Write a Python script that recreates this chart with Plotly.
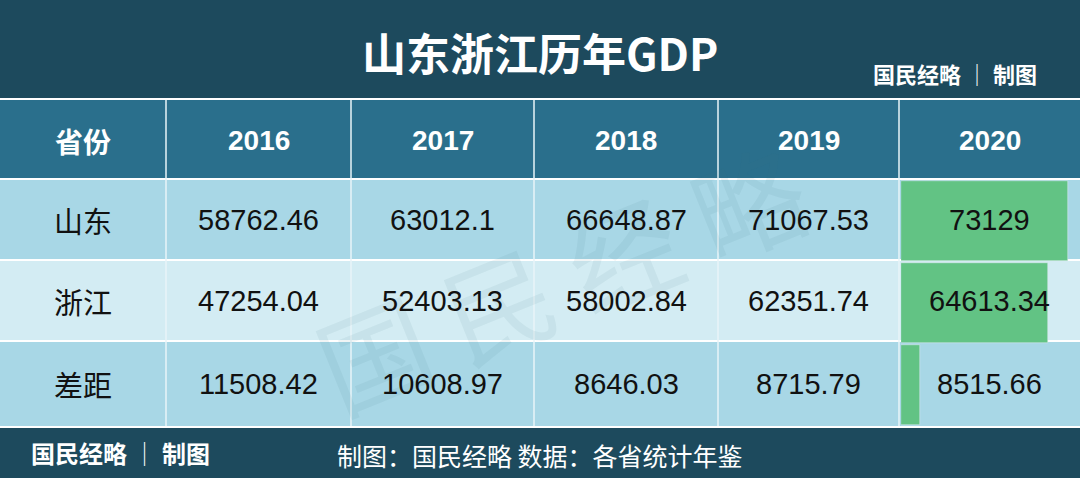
import plotly.graph_objects as go

title = "山东浙江历年GDP"
header = ["省份", "2016", "2017", "2018", "2019", "2020"]
provinces = ["山东", "浙江", "差距"]
v2016 = ["58762.46", "47254.04", "11508.42"]
v2017 = ["63012.1", "52403.13", "10608.97"]
v2018 = ["66648.87", "58002.84", "8646.03"]
v2019 = ["71067.53", "62351.74", "8715.79"]
v2020 = [73129, 64613.34, 8515.66]
v2020_labels = ["73129", "64613.34", "8515.66"]

W, H = 1080, 478
def px(x): return x / W
def py(y): return 1 - y / H

col_edges = [0, 166, 351, 534, 718, 899, 1080]
row_edges = [(180, 259), (261, 340), (342, 426)]
row_colors = ["#a8d7e6", "#d3ecf3", "#a8d7e6"]

fig = go.Figure()
shapes = []
def rect(x0, y0, x1, y1, color):
    shapes.append(dict(type="rect", xref="paper", yref="paper", x0=px(x0), x1=px(x1),
                       y0=py(y1), y1=py(y0), fillcolor=color, line_width=0, layer="below"))
rect(0, 0, 1080, 478, "#ffffff")
rect(0, 0, 1080, 98, "#1d4a5d")
rect(0, 100, 1080, 178, "#2a6f8c")
for (a, b), c in zip(row_edges, row_colors):
    rect(0, a, 1080, b, c)
rect(0, 428, 1080, 478, "#1d4a5d")
for x in col_edges[1:-1]:
    shapes.append(dict(type="line", xref="paper", yref="paper", x0=px(x), x1=px(x),
                       y0=py(426), y1=py(100), line=dict(color="#e8f4f8", width=1.5), layer="below"))

fig.add_trace(go.Bar(x=v2020, y=provinces, orientation="h", marker_color="#62c384",
                     width=0.97, hoverinfo="skip"))

anns = []
def txt(x, y, s, size, color, family="Noto Sans CJK SC", **kw):
    anns.append(dict(x=px(x), y=py(y), xref="paper", yref="paper", text=s, showarrow=False,
                     xanchor="center", yanchor="middle",
                     font=dict(size=size, color=color, family=family), **kw))
centers = [(col_edges[i] + col_edges[i + 1]) / 2 for i in range(6)]
txt(540, 52, "<b>" + title + "</b>", 44, "#ffffff")
txt(955, 73, "<b>国民经略 │ 制图</b>", 22, "#ffffff")
for ci, (c, h) in enumerate(zip(centers, header)):
    txt(c, 141, "<b>" + h + "</b>", 28, "#ffffff",
        family="Noto Sans CJK SC" if ci == 0 else "Liberation Sans")
txt(560, 275, "国 民 经 略", 110, "rgba(60,110,130,0.08)", textangle=-22)
cols = [provinces, v2016, v2017, v2018, v2019, v2020_labels]
for ri, (a, b) in enumerate(row_edges):
    for ci, col in enumerate(cols):
        txt(centers[ci], (a + b) / 2, col[ri], 29, "#111111",
            family="Noto Sans CJK SC" if ci == 0 else "Liberation Sans")
txt(120, 452, "<b>国民经略 │ 制图</b>", 24, "#ffffff")
txt(540, 455, "制图：国民经略 数据：各省统计年鉴", 25, "#ffffff")

fig.update_layout(
    width=W, height=H, margin=dict(l=0, r=0, t=0, b=0),
    paper_bgcolor="#ffffff", plot_bgcolor="rgba(0,0,0,0)", showlegend=False,
    shapes=shapes, annotations=anns,
    xaxis=dict(domain=[px(901), 1], range=[0, 78500], visible=False, fixedrange=True),
    yaxis=dict(domain=[py(426), py(180)], autorange="reversed", visible=False, fixedrange=True),
    bargap=0,
)
fig.write_html("out.html", config={"displayModeBar": False},
               post_script="document.body.style.margin='0';")
